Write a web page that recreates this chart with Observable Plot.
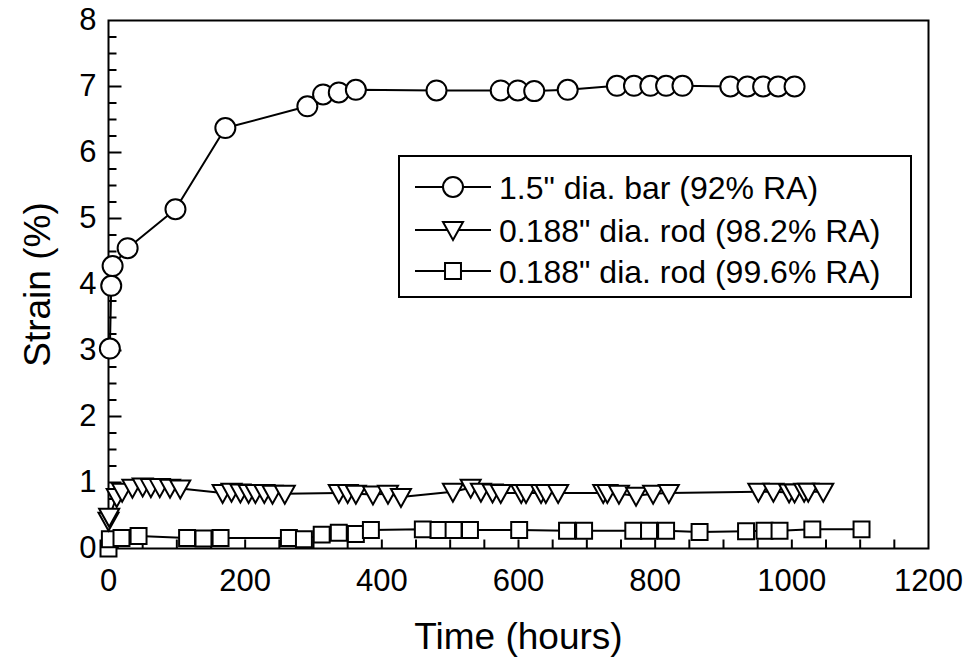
<!DOCTYPE html>
<html>
<head>
<meta charset="utf-8">
<script src="https://cdn.jsdelivr.net/npm/d3@7"></script>
<script src="https://cdn.jsdelivr.net/npm/@observablehq/plot@0.6"></script>
<style>
  html, body { margin: 0; padding: 0; background: #fff; }
  #wrap { position: relative; width: 971px; height: 661px; font-family: "Liberation Sans", Arial, Helvetica, sans-serif; }
  #legend { position: absolute; left: 398px; top: 155px; }
</style>
</head>
<body>
<div id="wrap"></div>
<script>
// ---- Data ----
const barTime   = [2, 4, 6, 28, 98, 171, 291, 314, 337, 362, 480, 574, 599, 623, 672, 744, 769, 793, 816, 840, 910, 935, 958, 980, 1004];
const barStrain = [3.03, 3.98, 4.28, 4.55, 5.14, 6.37, 6.70, 6.88, 6.91, 6.95, 6.94, 6.94, 6.94, 6.93, 6.95, 7.01, 7.01, 7.01, 7.01, 7.01, 7.0, 7.0, 7.0, 7.0, 7.0];

const rod982Time   = [0, 1, 12, 20, 35, 50, 62, 75, 90, 105, 167, 180, 193, 205, 215, 228, 240, 258, 337, 350, 362, 387, 409, 428, 504, 530, 545, 562, 574, 604, 611, 633, 640, 658, 724, 730, 747, 772, 797, 820, 951, 973, 996, 1004, 1018, 1024, 1046];
const rod982Strain = [0.42, 0.48, 0.78, 0.86, 0.92, 0.94, 0.93, 0.93, 0.92, 0.91, 0.84, 0.86, 0.85, 0.84, 0.84, 0.84, 0.83, 0.83, 0.84, 0.84, 0.83, 0.82, 0.83, 0.78, 0.86, 0.92, 0.86, 0.85, 0.84, 0.84, 0.84, 0.84, 0.84, 0.84, 0.84, 0.84, 0.83, 0.80, 0.83, 0.84, 0.86, 0.86, 0.85, 0.85, 0.86, 0.86, 0.86];

const rod996Time   = [0, 2, 19, 44, 115, 139, 164, 264, 286, 312, 337, 362, 384, 460, 483, 505, 529, 601, 671, 696, 768, 791, 816, 865, 933, 960, 982, 1030, 1102];
const rod996Strain = [0.0, 0.14, 0.16, 0.19, 0.16, 0.15, 0.16, 0.16, 0.14, 0.21, 0.24, 0.22, 0.28, 0.29, 0.28, 0.28, 0.28, 0.28, 0.27, 0.27, 0.27, 0.27, 0.27, 0.25, 0.26, 0.27, 0.27, 0.29, 0.29];

const seriesNames = ['1.5" dia. bar (92% RA)', '0.188" dia. rod (98.2% RA)', '0.188" dia. rod (99.6% RA)'];
const xTicks = [0, 200, 400, 600, 800, 1000, 1200];
const yTicks = [0, 1, 2, 3, 4, 5, 6, 7, 8];
const xMinorTicks = d3.range(50, 1200, 50);
const yMinorTicks = d3.range(0.25, 8, 0.25).filter(v => v % 1 !== 0);
const yMajorTicks = [1, 2, 3, 4, 5, 6, 7];
const xTitle = "Time (hours)";
const yTitle = "Strain (%)";

// ---- Build tables ----
const bar = barTime.map((t, i) => ({t, s: barStrain[i]}));
const rod982 = rod982Time.map((t, i) => ({t, s: rod982Strain[i]}));
const rod996 = rod996Time.map((t, i) => ({t, s: rod996Strain[i]}));

// downward triangle symbol
const triDown = {
  draw(ctx, size) {
    const r = Math.sqrt(size / Math.PI);
    ctx.moveTo(-r, -0.8 * r);
    ctx.lineTo(r, -0.8 * r);
    ctx.lineTo(0, r);
    ctx.closePath();
  }
};
// inward tick symbols
const upTick = len => ({draw(ctx) { ctx.moveTo(0, 0); ctx.lineTo(0, -len); }});
const rightTick = len => ({draw(ctx) { ctx.moveTo(0, 0); ctx.lineTo(len, 0); }});

const font = '"Liberation Sans", Arial, Helvetica, sans-serif';
const dotStyle = {fill: "white", stroke: "black", strokeWidth: 2};

const chart = Plot.plot({
  width: 971,
  height: 661,
  marginLeft: 108,
  marginRight: 43,
  marginTop: 20,
  marginBottom: 113,
  style: {fontFamily: font, color: "black", background: "white", overflow: "visible"},
  x: {domain: [0, 1200], label: null},
  y: {domain: [0, 8], label: null},
  marks: [
    Plot.dot(xMinorTicks, {x: d => d, y: d => 0, symbol: upTick(9), fill: "none", stroke: "black", strokeWidth: 2}),
    Plot.dot(yMinorTicks, {x: d => 0, y: d => d, symbol: rightTick(8), fill: "none", stroke: "black", strokeWidth: 2}),
    Plot.dot(yMajorTicks, {x: d => 0, y: d => d, symbol: rightTick(13), fill: "none", stroke: "black", strokeWidth: 2}),
    Plot.axisX({ticks: xTicks, tickSize: 0, tickPadding: 20, fontSize: 31, tickFormat: d => String(d), label: null}),
    Plot.axisY({ticks: yTicks, tickSize: 0, tickPadding: 12, fontSize: 31, tickFormat: d => String(d), label: null}),
    Plot.text([xTitle], {frameAnchor: "bottom", dy: 89, lineAnchor: "middle", textAnchor: "middle", fontSize: 37, fill: "black"}),
    Plot.text([yTitle], {frameAnchor: "left", dx: -70, rotate: -90, lineAnchor: "middle", textAnchor: "middle", fontSize: 37, fill: "black"}),
    Plot.frame({stroke: "black", strokeWidth: 2}),
    Plot.line(rod996, {x: "t", y: "s", stroke: "black", strokeWidth: 2}),
    Plot.dot(rod996, {x: "t", y: "s", symbol: "square", r: 9, ...dotStyle}),
    Plot.line(rod982, {x: "t", y: "s", stroke: "black", strokeWidth: 2}),
    Plot.dot(rod982, {x: "t", y: "s", symbol: triDown, r: 10, ...dotStyle}),
    Plot.line(bar, {x: "t", y: "s", stroke: "black", strokeWidth: 2}),
    Plot.dot(bar, {x: "t", y: "s", symbol: "circle", r: 10, ...dotStyle})
  ]
});

const wrap = document.getElementById("wrap");
wrap.appendChild(chart);

// ---- Legend (overlay) ----
const lw = 514, lh = 143;
const leg = d3.select(wrap).append("svg")
  .attr("id", "legend")
  .attr("width", lw).attr("height", lh)
  .style("font-family", font);
leg.append("rect").attr("x", 1).attr("y", 1).attr("width", lw - 2).attr("height", lh - 2)
  .attr("fill", "white").attr("stroke", "black").attr("stroke-width", 2);
const symSize = r => Math.PI * r * r;
const legSyms = [
  d3.symbol(d3.symbolCircle, symSize(10)),
  d3.symbol(triDown, symSize(10)),
  d3.symbol(d3.symbolSquare, symSize(9))
];
const rowY = [32, 75, 116];
seriesNames.forEach((name, i) => {
  const g = leg.append("g").attr("transform", `translate(0,${rowY[i]})`);
  g.append("line").attr("x1", 17).attr("x2", 93).attr("y1", 0).attr("y2", 0)
    .attr("stroke", "black").attr("stroke-width", 2);
  g.append("path").attr("d", legSyms[i]()).attr("transform", "translate(55,0)")
    .attr("fill", "white").attr("stroke", "black").attr("stroke-width", 2);
  g.append("text").attr("x", 101).attr("y", 0).attr("dy", "0.36em")
    .attr("font-size", 32).attr("fill", "black").text(name);
});
</script>
</body>
</html>
